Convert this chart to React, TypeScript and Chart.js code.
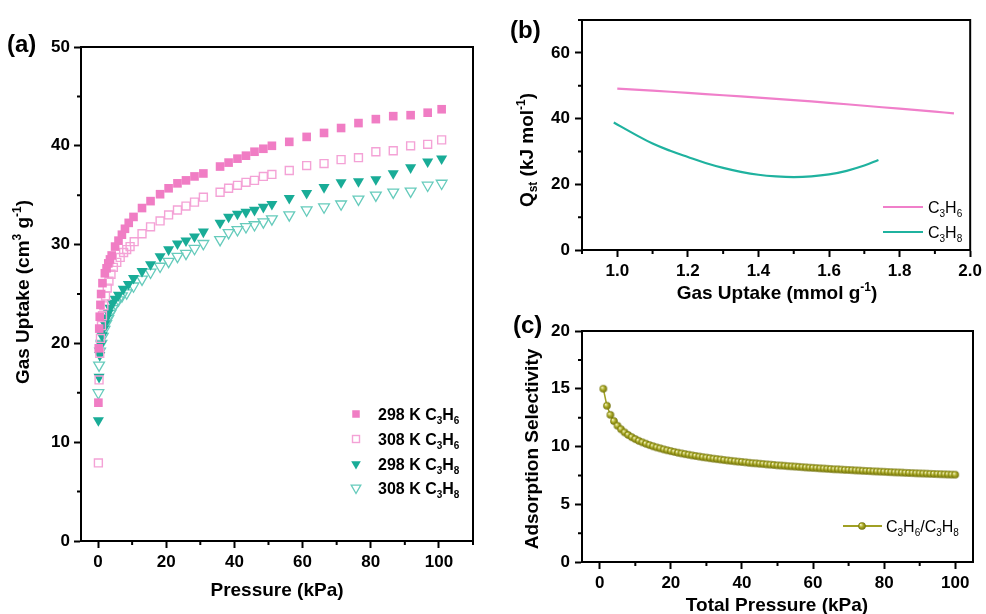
import React, { useEffect, useRef } from 'react';
import { Chart, registerables } from 'chart.js';

Chart.register(...registerables);

const FONT = "'Liberation Sans', Arial, Helvetica, sans-serif";

// ---------- Panel (a): adsorption isotherms ----------
const P_298_C3H6 = [0.1, 0.2, 0.35, 0.5, 0.7, 0.9, 1.3, 2.0, 2.5, 3.0, 3.5, 4.0, 5.0, 6.0, 7.0, 7.9, 9.0, 10.4, 12.9, 15.4, 18.2, 20.7, 23.3, 25.8, 28.3, 30.9, 35.8, 38.3, 40.9, 43.4, 45.9, 48.5, 51.0, 56.1, 61.2, 66.3, 71.3, 76.4, 81.5, 86.6, 91.7, 96.7, 100.8];
const Q_298_C3H6 = [14.0, 19.5, 21.5, 22.7, 23.9, 25.0, 26.1, 27.1, 27.6, 28.1, 28.5, 28.9, 29.8, 30.4, 31.0, 31.6, 32.2, 32.8, 33.7, 34.4, 35.1, 35.7, 36.2, 36.5, 36.9, 37.2, 37.9, 38.3, 38.7, 39.0, 39.4, 39.7, 40.0, 40.4, 40.9, 41.3, 41.8, 42.3, 42.7, 43.0, 43.1, 43.35, 43.7];

const P_308_C3H6 = [0.1, 0.3, 0.5, 0.7, 1.0, 1.3, 1.7, 2.2, 2.7, 3.2, 3.8, 4.5, 5.5, 6.5, 7.5, 8.4, 9.4, 10.6, 12.9, 15.4, 18.2, 20.7, 23.3, 25.8, 28.3, 30.9, 35.8, 38.3, 40.9, 43.4, 45.9, 48.5, 51.0, 56.1, 61.2, 66.3, 71.3, 76.4, 81.5, 86.6, 91.7, 96.7, 100.8];
const Q_308_C3H6 = [7.9, 16.3, 19.0, 20.5, 21.8, 22.8, 23.8, 24.8, 25.6, 26.3, 27.0, 27.7, 28.2, 28.7, 29.2, 29.5, 29.8, 30.3, 31.1, 31.8, 32.4, 33.0, 33.5, 33.9, 34.3, 34.8, 35.3, 35.7, 36.0, 36.3, 36.5, 36.9, 37.1, 37.5, 38.0, 38.2, 38.6, 38.8, 39.4, 39.5, 40.0, 40.15, 40.6];

const P_298_C3H8 = [0.1, 0.3, 0.5, 0.8, 1.2, 1.6, 2.0, 2.5, 3.0, 3.5, 4.2, 5.0, 6.0, 7.4, 8.9, 10.4, 12.9, 15.4, 18.2, 20.7, 23.3, 25.8, 28.3, 30.9, 35.8, 38.3, 40.9, 43.4, 45.9, 48.5, 51.0, 56.1, 61.2, 66.3, 71.3, 76.4, 81.5, 86.6, 91.7, 96.7, 100.8];
const Q_298_C3H8 = [12.2, 16.6, 18.8, 19.9, 20.8, 21.5, 22.0, 22.6, 23.1, 23.6, 24.1, 24.5, 24.9, 25.5, 26.0, 26.6, 27.3, 28.0, 28.8, 29.5, 30.1, 30.4, 30.8, 31.3, 32.2, 32.8, 33.1, 33.3, 33.5, 33.8, 34.1, 34.7, 35.2, 35.8, 36.3, 36.4, 36.6, 37.2, 37.8, 38.4, 38.7];

const P_308_C3H8 = [0.1, 0.3, 0.6, 1.0, 1.4, 1.9, 2.4, 3.0, 3.6, 4.3, 5.1, 6.0, 7.0, 8.4, 10.4, 12.9, 15.4, 18.2, 20.7, 23.3, 25.8, 28.3, 30.9, 35.8, 38.3, 40.9, 43.4, 45.9, 48.5, 51.0, 56.1, 61.2, 66.3, 71.3, 76.4, 81.5, 86.6, 91.7, 96.7, 100.8];
const Q_308_C3H8 = [15.0, 17.8, 19.2, 20.0, 20.7, 21.4, 22.0, 22.5, 23.0, 23.5, 24.0, 24.4, 24.8, 25.1, 25.8, 26.5, 27.2, 27.8, 28.3, 28.8, 29.1, 29.6, 30.1, 30.5, 31.2, 31.5, 31.8, 32.0, 32.3, 32.6, 33.0, 33.5, 33.8, 34.1, 34.6, 35.0, 35.3, 35.4, 36.0, 36.2];

const A_X_TICKS = [0, 20, 40, 60, 80, 100];
const A_X_MINOR = [10, 30, 50, 70, 90, 110];
const A_Y_TICKS = [0, 10, 20, 30, 40, 50];
const A_Y_MINOR = [5, 15, 25, 35, 45];

// ---------- Panel (b): isosteric heat ----------
const QST_X_C3H6 = [1.0, 1.1, 1.2, 1.3, 1.4, 1.5, 1.6, 1.7, 1.8, 1.9, 1.954];
const QST_Y_C3H6 = [49.1, 48.5, 47.8, 47.1, 46.4, 45.6, 44.8, 43.9, 43.0, 42.1, 41.6];
const QST_X_C3H8 = [0.99, 1.05, 1.1, 1.15, 1.2, 1.25, 1.3, 1.35, 1.4, 1.45, 1.5, 1.55, 1.6, 1.65, 1.7, 1.74];
const QST_Y_C3H8 = [38.8, 35.2, 32.4, 30.2, 28.3, 26.5, 25.0, 23.8, 22.9, 22.4, 22.2, 22.4, 23.0, 24.1, 25.7, 27.4];

const B_X_TICKS = [1.0, 1.2, 1.4, 1.6, 1.8, 2.0];
const B_X_MINOR = [0.9, 1.1, 1.3, 1.5, 1.7, 1.9];
const B_Y_TICKS = [0, 20, 40, 60];
const B_Y_MINOR = [10, 30, 50, 70];

// ---------- Panel (c): IAST selectivity ----------
const SEL_P = [1, 2, 3, 4, 5, 6, 7, 8, 9, 10, 11, 12, 13, 14, 15, 16, 17, 18, 19, 20, 21, 22, 23, 24, 25, 26, 27, 28, 29, 30, 31, 32, 33, 34, 35, 36, 37, 38, 39, 40, 41, 42, 43, 44, 45, 46, 47, 48, 49, 50, 51, 52, 53, 54, 55, 56, 57, 58, 59, 60, 61, 62, 63, 64, 65, 66, 67, 68, 69, 70, 71, 72, 73, 74, 75, 76, 77, 78, 79, 80, 81, 82, 83, 84, 85, 86, 87, 88, 89, 90, 91, 92, 93, 94, 95, 96, 97, 98, 99, 100];
const SEL_S = [
  15.0, 13.53, 12.74, 12.2, 11.8, 11.49, 11.22, 11.0, 10.81, 10.64,
  10.49, 10.36, 10.24, 10.12, 10.02, 9.92, 9.84, 9.75, 9.67, 9.6,
  9.53, 9.46, 9.4, 9.34, 9.29, 9.23, 9.18, 9.13, 9.08, 9.04,
  8.99, 8.95, 8.91, 8.87, 8.83, 8.79, 8.76, 8.72, 8.69, 8.66,
  8.63, 8.59, 8.56, 8.54, 8.51, 8.48, 8.45, 8.43, 8.4, 8.37,
  8.35, 8.33, 8.3, 8.28, 8.26, 8.24, 8.21, 8.19, 8.17, 8.15,
  8.13, 8.11, 8.09, 8.07, 8.05, 8.03, 8.02, 8.0, 7.98, 7.97,
  7.95, 7.93, 7.92, 7.9, 7.88, 7.87, 7.85, 7.84, 7.82, 7.81,
  7.79, 7.78, 7.76, 7.75, 7.74, 7.72, 7.71, 7.7, 7.68, 7.67,
  7.66, 7.65, 7.63, 7.62, 7.61, 7.6, 7.59, 7.58, 7.57, 7.56,
];

const C_X_TICKS = [0, 20, 40, 60, 80, 100];
const C_X_MINOR = [10, 30, 50, 70, 90];
const C_Y_TICKS = [0, 5, 10, 15, 20];
const C_Y_MINOR = [2.5, 7.5, 12.5, 17.5];

// ---------- colours ----------
const PINK = '#F07DC4';
const PINK_OPEN = '#F4A2D6';
const TEAL = '#19AC97';
const TEAL_OPEN = '#66CBBC';
const LINE_PINK = '#F07FCA';
const LINE_TEAL = '#1FB29F';
const OLIVE = '#A0A024';

const TICK_SIZE = 17;
const TITLE_SIZE = 19;
const PANEL_SIZE = 24;
const LEGEND_SIZE = 16;

type Seg = { t: string; k?: 'sub' | 'sup' };

function drawRich(
  ctx: CanvasRenderingContext2D,
  segs: Seg[],
  x: number,
  y: number,
  size: number,
  weight: string,
  align: 'left' | 'center',
  rot = 0
) {
  const small = Math.round(size * 0.62);
  ctx.save();
  ctx.translate(x, y);
  ctx.rotate(rot);
  ctx.fillStyle = '#000';
  ctx.textBaseline = 'alphabetic';
  ctx.textAlign = 'left';
  let total = 0;
  const widths = segs.map((s) => {
    ctx.font = `${weight} ${s.k ? small : size}px ${FONT}`;
    const w = ctx.measureText(s.t).width;
    total += w;
    return w;
  });
  let cx = align === 'center' ? -total / 2 : 0;
  const base = size * 0.36;
  segs.forEach((s, i) => {
    ctx.font = `${weight} ${s.k ? small : size}px ${FONT}`;
    const dy = s.k === 'sub' ? size * 0.24 : s.k === 'sup' ? -size * 0.42 : 0;
    ctx.fillText(s.t, cx, base + dy);
    cx += widths[i];
  });
  ctx.restore();
}

function frameAndMinor(chart: any, xMinor: number[], yMinor: number[]) {
  const { ctx, chartArea: a, scales } = chart;
  ctx.save();
  ctx.strokeStyle = '#000';
  ctx.lineWidth = 2;
  ctx.strokeRect(a.left, a.top, a.right - a.left, a.bottom - a.top);
  ctx.beginPath();
  xMinor.forEach((v) => {
    const px = scales.x.getPixelForValue(v);
    ctx.moveTo(px, a.bottom);
    ctx.lineTo(px, a.bottom + 4);
  });
  yMinor.forEach((v) => {
    const py = scales.y.getPixelForValue(v);
    ctx.moveTo(a.left, py);
    ctx.lineTo(a.left - 4, py);
  });
  ctx.stroke();
  ctx.restore();
}

function axis(min: number, max: number, majors: number[], fmt: (v: number) => string, fit: number, horizontal: boolean, pad: number): any {
  return {
    type: 'linear',
    min,
    max,
    afterBuildTicks: (s: any) => {
      s.ticks = majors.map((v) => ({ value: v }));
    },
    afterFit: (s: any) => {
      if (horizontal) s.height = fit;
      else s.width = fit;
    },
    grid: { display: true, drawOnChartArea: false, drawTicks: true, tickLength: 7, tickWidth: 2, tickColor: '#000' },
    border: { display: true, color: '#000', width: 2 },
    ticks: {
      autoSkip: false,
      maxRotation: 0,
      minRotation: 0,
      padding: pad,
      color: '#000',
      font: { family: FONT, size: TICK_SIZE, weight: 'bold' },
      callback: (v: any) => fmt(Number(v)),
    },
  };
}

const baseOpts = {
  responsive: false,
  animation: false,
  devicePixelRatio: 1,
  events: [],
};

const pts = (xs: number[], ys: number[]) => xs.map((x, i) => ({ x, y: ys[i] }));

function cfgA(): any {
  const legendItems: { label: Seg[]; draw: (ctx: CanvasRenderingContext2D, x: number, y: number) => void }[] = [
    {
      label: [{ t: '298 K C' }, { t: '3', k: 'sub' }, { t: 'H' }, { t: '6', k: 'sub' }],
      draw: (ctx, x, y) => {
        ctx.fillStyle = PINK;
        ctx.fillRect(x - 3.75, y - 3.75, 7.5, 7.5);
      },
    },
    {
      label: [{ t: '308 K C' }, { t: '3', k: 'sub' }, { t: 'H' }, { t: '6', k: 'sub' }],
      draw: (ctx, x, y) => {
        ctx.strokeStyle = PINK_OPEN;
        ctx.lineWidth = 1.4;
        ctx.strokeRect(x - 3.5, y - 3.5, 7, 7);
      },
    },
    {
      label: [{ t: '298 K C' }, { t: '3', k: 'sub' }, { t: 'H' }, { t: '8', k: 'sub' }],
      draw: (ctx, x, y) => {
        ctx.fillStyle = TEAL;
        ctx.beginPath();
        ctx.moveTo(x, y + 5.5);
        ctx.lineTo(x - 4.8, y - 2.8);
        ctx.lineTo(x + 4.8, y - 2.8);
        ctx.closePath();
        ctx.fill();
      },
    },
    {
      label: [{ t: '308 K C' }, { t: '3', k: 'sub' }, { t: 'H' }, { t: '8', k: 'sub' }],
      draw: (ctx, x, y) => {
        ctx.strokeStyle = TEAL_OPEN;
        ctx.lineWidth = 1.3;
        ctx.beginPath();
        ctx.moveTo(x, y + 5.5);
        ctx.lineTo(x - 4.8, y - 2.8);
        ctx.lineTo(x + 4.8, y - 2.8);
        ctx.closePath();
        ctx.stroke();
      },
    },
  ];
  const legendY = [414, 439, 464, 488];
  return {
    type: 'scatter',
    data: {
      datasets: [
        { label: '298 K C3H6', data: pts(P_298_C3H6, Q_298_C3H6), pointStyle: 'rect', pointRadius: 6.1, backgroundColor: PINK, borderColor: PINK, borderWidth: 0 },
        { label: '308 K C3H6', data: pts(P_308_C3H6, Q_308_C3H6), pointStyle: 'rect', pointRadius: 5.6, backgroundColor: 'rgba(255,255,255,0)', borderColor: PINK_OPEN, borderWidth: 1.4 },
        { label: '298 K C3H8', data: pts(P_298_C3H8, Q_298_C3H8), pointStyle: 'triangle', rotation: 180, pointRadius: 6.4, backgroundColor: TEAL, borderColor: TEAL, borderWidth: 0 },
        { label: '308 K C3H8', data: pts(P_308_C3H8, Q_308_C3H8), pointStyle: 'triangle', rotation: 180, pointRadius: 6.2, backgroundColor: 'rgba(255,255,255,0)', borderColor: TEAL_OPEN, borderWidth: 1.3 },
      ],
    },
    options: {
      ...baseOpts,
      layout: { padding: { left: 0, top: 47, right: 27, bottom: 0 } },
      plugins: { legend: { display: false }, tooltip: { enabled: false } },
      scales: {
        x: axis(-5, 110, A_X_TICKS, (v) => String(v), 73, true, 4),
        y: axis(0, 50, A_Y_TICKS, (v) => String(v), 81, false, 4),
      },
    },
    plugins: [
      {
        id: 'decoA',
        afterDraw(chart: any) {
          frameAndMinor(chart, A_X_MINOR, A_Y_MINOR);
          const ctx = chart.ctx as CanvasRenderingContext2D;
          drawRich(ctx, [{ t: '(a)' }], 7, 43, PANEL_SIZE, 'bold', 'left');
          drawRich(ctx, [{ t: 'Pressure (kPa)' }], 277, 589, TITLE_SIZE, 'bold', 'center');
          drawRich(ctx, [{ t: 'Gas Uptake (cm' }, { t: '3', k: 'sup' }, { t: ' g' }, { t: '-1', k: 'sup' }, { t: ')' }], 22, 292, TITLE_SIZE, 'bold', 'center', -Math.PI / 2);
          legendItems.forEach((it, i) => {
            ctx.save();
            it.draw(ctx, 356, legendY[i]);
            ctx.restore();
            drawRich(ctx, it.label, 378, legendY[i], LEGEND_SIZE, 'bold', 'left');
          });
        },
      },
    ],
  };
}

function cfgB(): any {
  return {
    type: 'scatter',
    data: {
      datasets: [
        { label: 'C3H6', data: pts(QST_X_C3H6, QST_Y_C3H6), showLine: true, pointRadius: 0, borderColor: LINE_PINK, borderWidth: 2.2, tension: 0.4, fill: false },
        { label: 'C3H8', data: pts(QST_X_C3H8, QST_Y_C3H8), showLine: true, pointRadius: 0, borderColor: LINE_TEAL, borderWidth: 2.2, tension: 0.4, fill: false },
      ],
    },
    options: {
      ...baseOpts,
      layout: { padding: { left: 0, top: 20, right: 13, bottom: 0 } },
      plugins: { legend: { display: false }, tooltip: { enabled: false } },
      scales: {
        x: axis(0.9, 2.0, B_X_TICKS, (v) => v.toFixed(1), 60, true, 4),
        y: axis(0, 70, B_Y_TICKS, (v) => String(v), 82, false, 5),
      },
    },
    plugins: [
      {
        id: 'decoB',
        afterDraw(chart: any) {
          frameAndMinor(chart, B_X_MINOR, B_Y_MINOR);
          const ctx = chart.ctx as CanvasRenderingContext2D;
          drawRich(ctx, [{ t: '(b)' }], 10, 29, PANEL_SIZE, 'bold', 'left');
          drawRich(ctx, [{ t: 'Gas Uptake (mmol g' }, { t: '-1', k: 'sup' }, { t: ')' }], 277, 292, TITLE_SIZE, 'bold', 'center');
          drawRich(ctx, [{ t: 'Q' }, { t: 'st', k: 'sub' }, { t: ' (kJ mol' }, { t: '-1', k: 'sup' }, { t: ')' }], 26, 150, TITLE_SIZE, 'bold', 'center', -Math.PI / 2);
          const items = [
            { c: LINE_PINK, y: 207, s: '6' },
            { c: LINE_TEAL, y: 232, s: '8' },
          ];
          items.forEach((it) => {
            ctx.save();
            ctx.strokeStyle = it.c;
            ctx.lineWidth = 2.2;
            ctx.beginPath();
            ctx.moveTo(383, it.y);
            ctx.lineTo(423, it.y);
            ctx.stroke();
            ctx.restore();
            drawRich(ctx, [{ t: 'C' }, { t: '3', k: 'sub' }, { t: 'H' }, { t: it.s, k: 'sub' }], 428, it.y, LEGEND_SIZE, 'normal', 'left');
          });
        },
      },
    ],
  };
}

function makeBall(r: number): HTMLCanvasElement {
  const s = Math.ceil(r * 2) + 2;
  const cv = document.createElement('canvas');
  cv.width = s;
  cv.height = s;
  const g = cv.getContext('2d')!;
  const c = s / 2;
  const grad = g.createRadialGradient(c - r * 0.35, c - r * 0.35, 0.2, c, c, r);
  grad.addColorStop(0, '#F6F6C8');
  grad.addColorStop(0.45, '#AFAF2A');
  grad.addColorStop(1, '#6E6E08');
  g.fillStyle = grad;
  g.beginPath();
  g.arc(c, c, r, 0, Math.PI * 2);
  g.fill();
  return cv;
}

function cfgC(): any {
  const ball = makeBall(3.8);
  return {
    type: 'scatter',
    data: {
      datasets: [
        { label: 'C3H6/C3H8', data: pts(SEL_P, SEL_S), showLine: true, borderColor: OLIVE, borderWidth: 1.5, pointStyle: ball, pointRadius: 3.8, backgroundColor: OLIVE },
      ],
    },
    options: {
      ...baseOpts,
      layout: { padding: { left: 0, top: 31, right: 13, bottom: 0 } },
      plugins: { legend: { display: false }, tooltip: { enabled: false } },
      scales: {
        x: axis(-5, 105, C_X_TICKS, (v) => String(v), 52, true, 4),
        y: axis(0, 20, C_Y_TICKS, (v) => String(v), 82, false, 5),
      },
    },
    plugins: [
      {
        id: 'decoC',
        afterDraw(chart: any) {
          frameAndMinor(chart, C_X_MINOR, C_Y_MINOR);
          const ctx = chart.ctx as CanvasRenderingContext2D;
          drawRich(ctx, [{ t: '(c)' }], 13, 24, PANEL_SIZE, 'bold', 'left');
          drawRich(ctx, [{ t: 'Total Pressure (kPa)' }], 277, 304, TITLE_SIZE, 'bold', 'center');
          drawRich(ctx, [{ t: 'Adsorption Selectivity' }], 31, 149, TITLE_SIZE, 'bold', 'center', -Math.PI / 2);
          ctx.save();
          ctx.strokeStyle = OLIVE;
          ctx.lineWidth = 1.8;
          ctx.beginPath();
          ctx.moveTo(343, 226);
          ctx.lineTo(382, 226);
          ctx.stroke();
          ctx.drawImage(ball, 362 - ball.width / 2, 226 - ball.height / 2);
          ctx.restore();
          drawRich(ctx, [{ t: 'C' }, { t: '3', k: 'sub' }, { t: 'H' }, { t: '6', k: 'sub' }, { t: '/C' }, { t: '3', k: 'sub' }, { t: 'H' }, { t: '8', k: 'sub' }], 386, 226, LEGEND_SIZE, 'normal', 'left');
        },
      },
    ],
  };
}

export default function App() {
  const ra = useRef<HTMLCanvasElement>(null);
  const rb = useRef<HTMLCanvasElement>(null);
  const rc = useRef<HTMLCanvasElement>(null);
  useEffect(() => {
    const charts = [new Chart(ra.current!, cfgA()), new Chart(rb.current!, cfgB()), new Chart(rc.current!, cfgC())];
    return () => charts.forEach((c) => c.destroy());
  }, []);
  return (
    <div style={{ position: 'fixed', left: 0, top: 0, width: 986, height: 614, background: '#fff', overflow: 'hidden' }}>
      <canvas ref={rc} width={486} height={314} style={{ position: 'absolute', left: 500, top: 300, width: 486, height: 314 }} />
      <canvas ref={rb} width={486} height={310} style={{ position: 'absolute', left: 500, top: 0, width: 486, height: 310 }} />
      <canvas ref={ra} width={500} height={614} style={{ position: 'absolute', left: 0, top: 0, width: 500, height: 614 }} />
    </div>
  );
}
